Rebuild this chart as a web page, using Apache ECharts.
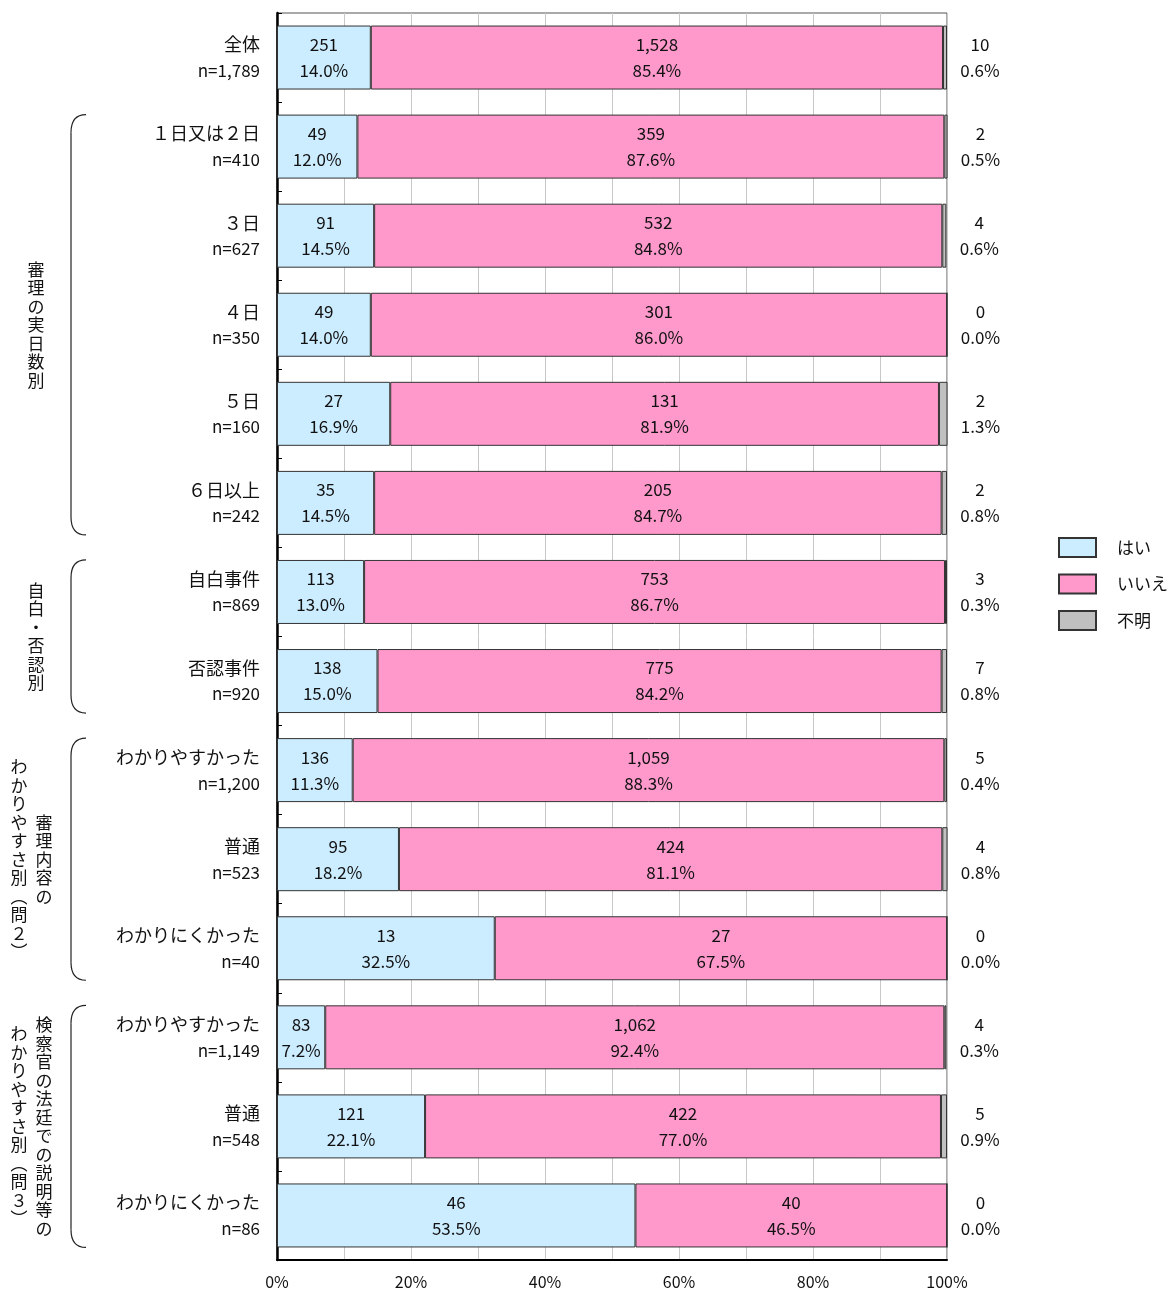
<!DOCTYPE html>
<html><head><meta charset="utf-8">
<script src="https://cdn.jsdelivr.net/npm/echarts@6/dist/echarts.min.js"></script>
<style>html,body{margin:0;padding:0;background:#fff}#c{width:1171px;height:1291px}</style>
</head><body><div id="c"></div>
<script>
const categories = ['全体','１日又は２日','３日','４日','５日','６日以上','自白事件','否認事件','わかりやすかった','普通','わかりにくかった','わかりやすかった','普通','わかりにくかった'];
const nValues = [1789,410,627,350,160,242,869,920,1200,523,40,1149,548,86];
const yesCounts = [251,49,91,49,27,35,113,138,136,95,13,83,121,46];
const noCounts = [1528,359,532,301,131,205,753,775,1059,424,27,1062,422,40];
const unkCounts = [10,2,4,0,2,2,3,7,5,4,0,4,5,0];
const yesPct = [14.0,12.0,14.5,14.0,16.9,14.5,13.0,15.0,11.3,18.2,32.5,7.2,22.1,53.5];
const noPct = [85.4,87.6,84.8,86.0,81.9,84.7,86.7,84.2,88.3,81.1,67.5,92.4,77.0,46.5];
const unkPct = [0.6,0.5,0.6,0.0,1.3,0.8,0.3,0.8,0.4,0.8,0.0,0.3,0.9,0.0];
const seriesNames = ['はい','いいえ','不明'];
const xTicks = [0,20,40,60,80,100];
const groups = [
  {from:1, to:5, cols:['審理の実日数別']},
  {from:6, to:7, cols:['自白・否認別']},
  {from:8, to:10, cols:['審理内容の','わかりやすさ別︵問２︶']},
  {from:11, to:13, cols:['検察官の法廷での説明等の','わかりやすさ別︵問３︶']}
];

const JP = '"Noto Sans CJK JP", "Noto Sans", sans-serif';
const NARROW = '"Liberation Sans Narrow", "Noto Sans CJK JP", sans-serif';
const fmt = n => String(n).replace(/\B(?=(\d{3})+(?!\d))/g, ',');

const chart = echarts.init(document.getElementById('c'), null, {renderer:'canvas'});

function lbl(counts, pcts) {
  return p => '{c|' + fmt(counts[p.dataIndex]) + '}\n{p|' + pcts[p.dataIndex].toFixed(1) + '%}';
}
const rich = {
  c:{fontFamily:JP, fontSize:17, color:'#111', lineHeight:26},
  p:{fontFamily:NARROW, fontSize:17, color:'#111', lineHeight:26}
};

const option = {
  animation:false,
  backgroundColor:'#fff',
  grid:{left:277, right:224, top:13, bottom:31, show:true, borderColor:'#555', borderWidth:1, backgroundColor:'transparent'},
  legend:{
    orient:'vertical', left:1058, top:537, padding:0, itemWidth:37, itemHeight:19, itemGap:15.5,
    icon:'rect',
    textStyle:{fontFamily:JP, fontSize:17, color:'#111', padding:[0,0,0,16]},
    data:seriesNames
  },
  xAxis:{
    type:'value', min:0, max:100, interval:10,
    axisLine:{show:true, onZero:false, lineStyle:{color:'#000', width:2}},
    axisTick:{show:false},
    splitLine:{show:true, lineStyle:{color:'#c8c8c8', width:1}},
    axisLabel:{fontFamily:NARROW, fontSize:16, color:'#111', margin:14,
      formatter:v => xTicks.indexOf(v) >= 0 ? v + '%' : ''}
  },
  yAxis:{
    type:'category', inverse:true,
    data:categories.map((c,i)=>String(i)),
    axisLine:{show:true, lineStyle:{color:'#000', width:2.5}},
    axisTick:{show:true, inside:true, length:5, lineStyle:{color:'#000', width:1}},
    axisLabel:{
      margin:17, align:'right',
      formatter:(v,i)=>'{a|' + categories[i] + '}\n{b|n=' + fmt(nValues[i]) + '}',
      rich:{
        a:{fontFamily:JP, fontSize:18, color:'#111', lineHeight:26, align:'right'},
        b:{fontFamily:JP, fontSize:17, color:'#111', lineHeight:26, align:'right'}
      }
    }
  },
  series:[
    {name:seriesNames[0], type:'bar', stack:'t', barWidth:64, data:yesPct,
     itemStyle:{color:'#CCECFF', borderColor:'#333', borderWidth:1},
     label:{show:true, position:'inside', formatter:lbl(yesCounts,yesPct), rich:rich}},
    {name:seriesNames[1], type:'bar', stack:'t', barWidth:64, data:noPct,
     itemStyle:{color:'#FF99CC', borderColor:'#333', borderWidth:1},
     label:{show:true, position:'inside', formatter:lbl(noCounts,noPct), rich:rich}},
    {name:seriesNames[2], type:'bar', stack:'t', barWidth:64, data:unkPct,
     itemStyle:{color:'#C0C0C0', borderColor:'#333', borderWidth:1},
     label:{show:true, position:['100%','50%'], offset:[33,0], align:'center', verticalAlign:'middle',
       formatter:lbl(unkCounts,unkPct), rich:rich}}
  ]
};
chart.setOption(option);

// Group brackets and vertical group titles
const gfx = [];
const half = 32;
groups.forEach(g => {
  const yTop = chart.convertToPixel({yAxisIndex:0}, String(g.from)) - half;
  const yBot = chart.convertToPixel({yAxisIndex:0}, String(g.to)) + half;
  const xL = 71, xR = 86, r = 18;
  const ls = {stroke:'#222', lineWidth:1.2, fill:null};
  gfx.push({type:'bezierCurve', shape:{x1:xR, y1:yTop, cpx1:xL, cpy1:yTop, x2:xL, y2:yTop + r}, style:ls});
  gfx.push({type:'line', shape:{x1:xL, y1:yTop + r, x2:xL, y2:yBot - r}, style:ls});
  gfx.push({type:'bezierCurve', shape:{x1:xL, y1:yBot - r, cpx1:xL, cpy1:yBot, x2:xR, y2:yBot}, style:ls});
  const yc = (yTop + yBot) / 2;
  const xs = g.cols.length === 1 ? [36] : [44, 19];
  g.cols.forEach((t, k) => {
    gfx.push({type:'text', x:xs[k], y:yc,
      style:{text:t.split('').join('\n'), fontFamily:JP, fontSize:17, lineHeight:18.5, fill:'#111',
        align:'center', verticalAlign:'middle'}});
  });
});
chart.setOption({graphic:gfx});
</script></body></html>
